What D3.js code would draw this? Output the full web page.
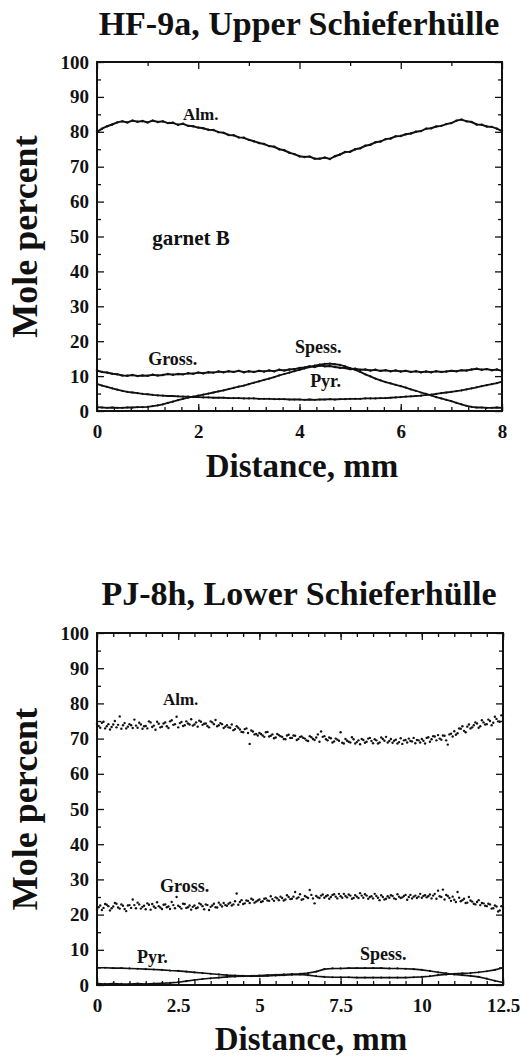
<!DOCTYPE html>
<html><head><meta charset="utf-8">
<script src="https://cdn.jsdelivr.net/npm/d3@7"></script>
<style>
body{margin:0;background:#fff}
svg{display:block}
text{font-family:"Liberation Serif","Times New Roman",serif;font-weight:bold;fill:#111}
</style>
</head><body>
<svg id="chart" width="520" height="1058"></svg>
<script>
// ---------- Panel 1: HF-9a (values at 0.1 mm steps, 0..8 mm) ----------
const hfDistance = d3.range(0, 81).map(i => i / 10);
const hfAlm = [80.0,80.9,81.6,82.1,82.7,83.0,82.7,83.2,82.9,83.1,
  82.7,83.2,82.8,83.0,82.5,82.6,82.0,82.3,81.7,81.6,
  81.2,81.0,80.6,80.5,79.9,79.7,79.1,79.0,78.4,78.3,
  77.7,77.3,76.8,76.5,75.9,75.7,75.0,74.7,74.0,73.6,
  73.0,72.8,72.9,72.3,72.3,72.6,72.2,73.0,73.5,74.2,
  74.3,75.0,75.3,76.0,76.3,77.0,77.2,77.9,78.1,78.7,
  78.8,79.3,79.5,80.0,80.2,80.9,81.0,81.5,81.7,82.2,
  82.5,83.2,83.5,83.0,82.8,82.1,82.0,81.5,81.4,80.9,80.2];
const hfGross = [11.6,11.2,11.0,10.7,10.5,10.2,10.1,10.3,10.0,10.2,
  10.1,10.4,10.2,10.3,10.6,10.4,10.6,10.5,10.8,10.7,
  11.0,10.8,11.1,11.0,11.3,11.1,11.4,11.2,11.5,11.1,
  11.4,11.2,11.5,11.3,11.6,11.4,11.8,11.6,11.9,12.0,
  12.3,12.5,12.8,12.6,13.0,12.8,12.9,12.6,12.4,12.3,
  12.0,12.1,11.8,11.9,11.6,11.8,11.5,11.7,11.4,11.6,
  11.3,11.5,11.2,11.4,11.1,11.3,11.1,11.4,11.2,11.3,
  11.5,11.4,11.7,11.6,11.9,12.1,11.8,12.0,11.7,11.9,11.5];
const hfSpess = [1.1,1.0,0.9,1.0,0.9,0.9,1.0,1.0,1.1,1.1,
  1.2,1.4,1.6,1.9,2.3,2.7,3.1,3.5,3.8,4.1,
  4.4,4.7,5.0,5.3,5.6,5.9,6.3,6.6,7.0,7.3,
  7.7,8.1,8.5,8.9,9.3,9.7,10.2,10.6,11.0,11.4,
  11.8,12.2,12.6,13.0,13.3,13.5,13.6,13.4,13.2,12.8,
  12.3,11.8,11.2,10.5,9.9,9.3,8.8,8.3,7.9,7.5,
  7.1,6.7,6.2,5.8,5.3,4.9,4.5,4.0,3.6,3.2,
  2.8,2.3,1.9,1.5,1.2,1.0,1.0,0.9,0.9,1.0,0.9];
const hfPyr = [7.8,7.3,6.9,6.5,6.1,5.8,5.5,5.3,5.1,4.9,
  4.8,4.6,4.5,4.4,4.3,4.3,4.2,4.1,4.1,4.0,
  4.0,3.9,3.9,3.8,3.8,3.8,3.7,3.7,3.7,3.6,
  3.6,3.6,3.5,3.5,3.5,3.4,3.4,3.4,3.3,3.3,
  3.3,3.2,3.3,3.2,3.3,3.3,3.4,3.3,3.4,3.4,
  3.5,3.5,3.5,3.6,3.6,3.6,3.7,3.7,3.8,3.9,
  4.0,4.1,4.2,4.3,4.4,4.6,4.7,4.9,5.1,5.3,
  5.5,5.7,5.9,6.2,6.5,6.8,7.1,7.4,7.7,8.0,8.4];
const hfXTicks = [0, 2, 4, 6, 8];

// ---------- Panel 2: PJ-8h ----------
const pjDistance = d3.range(0, 126).map(i => i / 10);
const pjAlm = [74.2,73.1,74.8,73.5,72.6,74.0,73.2,76.3,73.8,72.9,
  74.1,73.0,73.7,74.5,72.8,73.6,74.9,73.3,72.5,74.2,
  73.4,74.6,73.0,75.2,74.1,73.2,74.7,73.8,74.3,75.5,
  74.0,73.4,74.8,74.2,73.6,74.9,74.1,73.5,74.4,73.0,
  73.8,73.1,72.4,73.5,72.6,71.8,72.9,68.5,72.0,71.3,
  71.6,70.9,71.8,70.6,71.2,70.3,71.0,70.5,69.8,71.1,
  70.2,70.8,69.9,70.6,70.0,69.3,70.4,69.6,71.2,72.0,
  70.7,69.5,70.1,69.2,69.7,71.8,68.6,69.4,68.9,69.8,
  69.0,68.4,69.6,69.1,70.2,68.7,69.5,68.9,69.9,70.5,
  69.3,68.8,69.7,69.0,68.5,69.6,70.0,69.2,68.7,69.5,
  69.9,68.6,70.4,69.8,70.6,71.0,69.7,70.8,68.3,71.4,
  72.1,71.5,72.8,72.2,73.4,72.9,73.8,74.3,73.5,74.6,
  74.1,75.0,74.5,75.6,74.8,75.3];
const pjGross = [21.4,22.6,21.9,22.8,21.2,22.3,23.1,21.7,22.5,21.0,
  22.7,24.3,21.8,22.9,22.2,21.5,22.8,23.0,21.9,22.4,
  21.6,22.9,22.3,23.6,21.8,22.5,21.7,23.0,22.1,21.4,
  22.6,22.0,22.9,21.5,22.7,22.2,23.1,22.0,22.8,23.3,
  22.5,23.4,22.9,26.0,23.6,23.0,24.0,23.3,24.2,23.7,
  24.3,23.8,24.6,23.9,24.4,24.9,24.1,24.7,24.3,25.0,
  24.5,26.4,24.9,24.2,25.3,24.7,25.6,23.2,24.9,25.4,
  24.8,25.5,25.0,25.8,24.6,25.2,25.9,24.9,25.4,24.7,
  25.1,26.1,24.8,25.4,25.0,24.6,25.3,24.1,25.0,24.5,
  24.8,25.3,24.4,25.1,24.9,25.6,25.0,24.6,25.4,25.1,
  24.8,25.5,25.2,24.6,25.9,26.8,25.0,24.3,25.3,23.9,
  24.2,26.4,23.8,24.5,23.4,24.0,23.1,23.6,22.7,23.2,
  22.4,22.9,21.8,22.3,21.2,21.9];
// second set of analyses, between the first ones (0.05, 0.15, ... 12.45 mm)
const pjDistance2 = d3.range(0, 125).map(i => i / 10 + 0.05);
const pjAlm2 = [73.6,74.5,72.9,74.1,73.3,75.0,73.9,72.8,74.4,73.4,
  73.8,75.4,73.1,74.0,73.5,72.9,74.6,73.7,74.8,73.2,
  74.3,73.5,74.9,73.9,76.2,74.4,73.6,74.9,74.0,73.7,
  74.6,75.1,73.9,74.3,73.2,74.6,75.3,73.8,74.1,73.4,
  73.2,74.0,72.7,73.1,71.9,72.7,71.6,72.3,71.2,70.9,
  71.3,70.5,71.9,70.8,70.1,71.3,70.7,69.9,70.9,70.2,
  70.9,69.6,70.5,70.2,69.5,70.7,69.9,70.3,69.1,70.5,
  69.8,70.3,68.9,70.0,69.4,68.8,69.9,69.1,70.4,68.6,
  69.5,69.9,68.8,70.0,69.3,69.8,68.6,70.3,69.4,68.9,
  69.9,69.4,68.6,70.1,69.5,68.9,69.3,70.2,69.6,68.9,
  69.4,70.2,69.1,70.7,69.5,70.0,70.9,69.5,71.2,70.6,
  71.1,72.9,73.5,71.8,74.0,73.2,74.6,73.1,75.2,74.0,
  75.4,73.8,76.2,74.9,76.6];
const pjGross2 = [22.1,21.3,23.0,22.4,21.8,23.3,22.0,22.9,21.6,22.6,
  21.9,22.7,23.4,21.7,22.5,23.2,21.4,22.3,23.5,22.0,
  22.8,22.1,21.6,22.7,25.0,22.2,23.1,21.9,22.6,22.2,
  21.8,23.2,22.4,22.9,21.3,22.6,22.1,23.4,22.3,22.7,
  23.1,22.6,23.8,22.8,24.1,23.2,23.9,24.5,23.4,24.0,
  23.6,24.5,24.0,25.2,23.9,24.6,25.1,24.0,25.5,24.4,
  25.1,24.6,25.8,24.4,25.0,27.0,24.6,25.3,24.7,25.7,
  25.2,24.5,25.6,25.1,25.9,24.8,25.3,25.7,24.5,25.5,
  24.7,25.4,25.8,24.5,25.2,25.9,24.8,25.5,24.3,25.2,
  25.5,24.6,25.8,24.7,25.3,24.2,25.6,25.1,24.7,25.9,
  25.3,24.9,25.7,25.4,24.5,25.2,27.1,25.6,24.7,25.1,
  23.6,24.8,24.1,23.3,25.0,23.7,22.9,24.1,23.3,22.5,
  23.1,21.7,22.6,20.9,22.4];
const pjTraceDistance = d3.range(0, 51).map(i => i / 4);
const pjPyr = [4.9,4.9,4.8,4.8,4.7,4.6,4.5,4.4,4.3,4.1,
  4.0,3.8,3.6,3.4,3.2,3.0,2.8,2.7,2.6,2.5,
  2.5,2.6,2.7,2.8,2.9,3.0,2.8,2.5,2.3,2.2,
  2.2,2.2,2.1,2.1,2.1,2.1,2.1,2.1,2.1,2.2,
  2.3,2.5,2.8,3.0,3.2,3.3,3.4,3.6,3.9,4.3,4.9];
const pjSpess = [0.4,0.3,0.4,0.3,0.3,0.4,0.3,0.4,0.5,0.6,
  0.8,1.1,1.4,1.7,1.9,2.1,2.3,2.4,2.5,2.6,
  2.7,2.8,2.9,3.0,3.1,3.2,3.4,3.8,4.5,4.7,
  4.7,4.8,4.8,4.8,4.8,4.8,4.7,4.7,4.6,4.5,
  4.3,4.0,3.6,3.3,3.0,2.8,2.6,2.3,1.8,1.2,0.7];
const pjXTicks = [0, 2.5, 5, 7.5, 10, 12.5];
const yTicks = [0,10,20,30,40,50,60,70,80,90,100];

const svg = d3.select("#chart");

function panel(cfg) {
  const x = d3.scaleLinear().domain(cfg.xDomain).range(cfg.xRange);
  const y = d3.scaleLinear().domain([0, 100]).range(cfg.yRange);
  const g = svg.append("g");
  const [x0, x1] = cfg.xRange, [yb, yt] = cfg.yRange;

  // titles
  g.append("text").attr("x", cfg.titleX).attr("y", cfg.titleY)
    .attr("text-anchor", "middle").style("font-size", "34px").text(cfg.title);
  g.append("text").attr("x", cfg.xLabelX).attr("y", cfg.xLabelY)
    .attr("text-anchor", "middle").style("font-size", "33px").text("Distance, mm");
  g.append("text").attr("transform", `translate(37,${(yb + yt) / 2}) rotate(-90)`)
    .attr("text-anchor", "middle").style("font-size", "36px").text("Mole percent");

  // axes (inward ticks)
  const fmt = d => String(d);
  g.append("g").attr("transform", `translate(0,${yb})`)
    .call(d3.axisBottom(x).tickValues(cfg.xTicks).tickFormat(fmt).tickSize(-7).tickPadding(14));
  g.append("g").attr("transform", `translate(0,${yb})`)
    .call(d3.axisBottom(x).tickValues(cfg.xMinorBottom).tickFormat("").tickSize(-4));
  g.append("g").attr("transform", `translate(0,${yt})`)
    .call(d3.axisTop(x).tickValues(cfg.xTicks).tickFormat("").tickSize(-7));
  g.append("g").attr("transform", `translate(0,${yt})`)
    .call(d3.axisTop(x).tickValues(cfg.xMinorTop).tickFormat("").tickSize(-4));
  g.append("g").attr("transform", `translate(${x0},0)`)
    .call(d3.axisLeft(y).tickValues(yTicks).tickFormat(fmt).tickSize(-7).tickPadding(8));
  g.append("g").attr("transform", `translate(${x0},0)`)
    .call(d3.axisLeft(y).tickValues(d3.range(5, 100, 10)).tickFormat("").tickSize(-4));
  g.append("g").attr("transform", `translate(${x1},0)`)
    .call(d3.axisRight(y).tickValues(yTicks).tickFormat("").tickSize(-7));
  g.append("g").attr("transform", `translate(${x1},0)`)
    .call(d3.axisRight(y).tickValues(d3.range(5, 100, 10)).tickFormat("").tickSize(-4));
  g.selectAll(".domain").remove();
  g.selectAll(".tick line").attr("stroke", "#111").attr("stroke-width", 1.3);
  g.selectAll(".tick text").style("font-size", "19px")
    .style("font-family", '"Liberation Serif","Times New Roman",serif').style("font-weight", "bold").attr("fill", "#111");

  // frame
  g.append("rect").attr("x", x0).attr("y", yt).attr("width", x1 - x0).attr("height", yb - yt)
    .attr("fill", "none").attr("stroke", "#111").attr("stroke-width", 2);

  // series
  const plot = g.append("g");
  cfg.series.forEach(s => {
    const pts = s.xs.map((d, i) => [d, s.ys[i]]);
    if (s.line) {
      plot.append("path").datum(pts)
        .attr("d", d3.line().x(p => x(p[0])).y(p => y(p[1])))
        .attr("fill", "none").attr("stroke", "#111").attr("stroke-width", s.line);
    }
    plot.selectAll(null).data(pts).enter().append("circle")
      .attr("cx", p => x(p[0])).attr("cy", p => y(p[1])).attr("r", s.r).attr("fill", "#111");
  });

  // annotations
  cfg.labels.forEach(l => {
    g.append("text").attr("x", x(l.x)).attr("y", y(l.y))
      .style("font-size", (l.size || 18) + "px").text(l.text);
  });
}

panel({
  title: "HF-9a, Upper Schieferhülle", titleX: 299, titleY: 35,
  xLabelX: 302, xLabelY: 477,
  xDomain: [0, 8], xRange: [97, 502], yRange: [411, 62],
  xTicks: hfXTicks,
  xMinorBottom: d3.range(0, 8.01, 1/3),
  xMinorTop: d3.range(1, 8, 2),
  series: [
    {xs: hfDistance, ys: hfAlm, line: 2.0, r: 1.2},
    {xs: hfDistance, ys: hfGross, line: 2.0, r: 1.2},
    {xs: hfDistance, ys: hfSpess, line: 1.8, r: 1.1},
    {xs: hfDistance, ys: hfPyr, line: 1.8, r: 1.1}
  ],
  labels: [
    {text: "Alm.", x: 1.70, y: 83.4, size: 17},
    {text: "garnet B", x: 1.09, y: 47.7, size: 21},
    {text: "Gross.", x: 1.01, y: 13.2},
    {text: "Spess.", x: 3.91, y: 16.6},
    {text: "Pyr.", x: 4.21, y: 6.9}
  ]
});

panel({
  title: "PJ-8h, Lower Schieferhülle", titleX: 299, titleY: 605,
  xLabelX: 311, xLabelY: 1050,
  xDomain: [0, 12.5], xRange: [97, 503], yRange: [985, 633],
  xTicks: pjXTicks,
  xMinorBottom: d3.range(0, 12.51, 0.5),
  xMinorTop: d3.range(0, 12.51, 0.5),
  series: [
    {xs: pjDistance, ys: pjAlm, line: 0, r: 1.2},
    {xs: pjDistance2, ys: pjAlm2, line: 0, r: 1.2},
    {xs: pjDistance, ys: pjGross, line: 0, r: 1.2},
    {xs: pjDistance2, ys: pjGross2, line: 0, r: 1.2},
    {xs: pjTraceDistance, ys: pjPyr, line: 1.6, r: 1.1},
    {xs: pjTraceDistance, ys: pjSpess, line: 1.6, r: 1.1}
  ],
  labels: [
    {text: "Alm.", x: 2.03, y: 79.5, size: 17},
    {text: "Gross.", x: 1.94, y: 26.4},
    {text: "Pyr.", x: 1.23, y: 6.25},
    {text: "Spess.", x: 8.10, y: 7.1}
  ]
});
</script>
</body></html>
